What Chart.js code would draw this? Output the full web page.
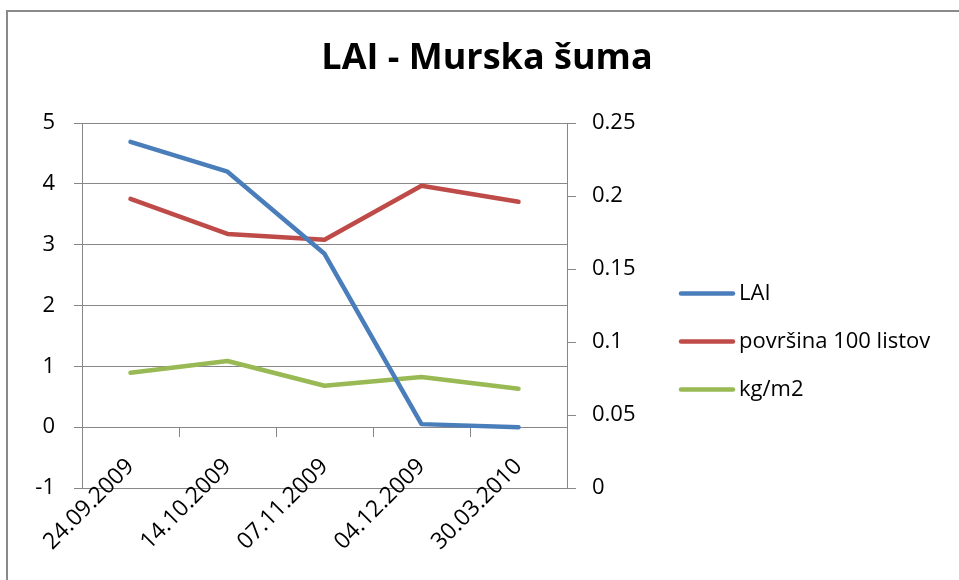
<!DOCTYPE html>
<html>
<head>
<meta charset="utf-8">
<script src="https://cdn.jsdelivr.net/npm/chart.js@4"></script>
<style>
  html, body { margin: 0; padding: 0; background: #fff; }
  #wrap { width: 959px; height: 580px; position: relative; }
</style>
</head>
<body>
<div id="wrap"><canvas id="laiChart" width="959" height="580"></canvas></div>
<script>
const dates = ['24.09.2009', '14.10.2009', '07.11.2009', '04.12.2009', '30.03.2010'];
const laiValues = [4.69, 4.20, 2.85, 0.05, 0.0];
const povrsinaValues = [0.198, 0.174, 0.170, 0.207, 0.196];
const kgValues = [0.079, 0.087, 0.070, 0.076, 0.068];
const leftTicks = ['-1', '0', '1', '2', '3', '4', '5'];
const rightTicks = ['0', '0.05', '0.1', '0.15', '0.2', '0.25'];
const chartTitle = 'LAI - Murska šuma';

const gridGray = '#878787';
const fontName = '"Open Sans", Lato, sans-serif';

// grey frame of the chart object (top and left edge only) + title
const framePlugin = {
  id: 'frame',
  beforeDraw(chart) {
    const ctx = chart.ctx;
    ctx.save();
    ctx.fillStyle = '#fff';
    ctx.fillRect(0, 0, chart.width, chart.height);
    ctx.strokeStyle = '#8a8a8a';
    ctx.lineWidth = 2;
    ctx.beginPath();
    ctx.moveTo(7, chart.height);
    ctx.lineTo(7, 11);
    ctx.lineTo(chart.width, 11);
    ctx.stroke();

    ctx.fillStyle = '#000';
    ctx.font = 'bold 36px ' + fontName;
    ctx.textAlign = 'center';
    ctx.textBaseline = 'alphabetic';
    ctx.fillText(chartTitle, 487, 69);
    ctx.restore();
  },
};

// legend drawn to the right of the plot, like excel does
const sideLegend = {
  id: 'sideLegend',
  afterDraw(chart) {
    const ctx = chart.ctx;
    const sets = chart.data.datasets;
    const midY = 341.5;
    const gap = 48;
    ctx.save();
    ctx.font = '22px ' + fontName;
    ctx.textBaseline = 'middle';
    ctx.fillStyle = '#000';
    sets.forEach((ds, i) => {
      const y = midY + (i - (sets.length - 1) / 2) * gap;
      ctx.strokeStyle = ds.borderColor;
      ctx.lineWidth = 4.5;
      ctx.lineCap = 'round';
      ctx.beginPath();
      ctx.moveTo(681, y);
      ctx.lineTo(733, y);
      ctx.stroke();
      ctx.fillText(ds.label, 739, y);
    });
    ctx.restore();
  },
};

const ctx = document.getElementById('laiChart').getContext('2d');
const laiChart = new Chart(ctx, {
  type: 'line',
  data: {
    labels: dates,
    datasets: [
      {
        label: 'LAI',
        data: laiValues,
        borderColor: '#4A7EBB',
        yAxisID: 'y',
      },
      {
        label: 'površina 100 listov',
        data: povrsinaValues,
        borderColor: '#BE4B48',
        yAxisID: 'y1',
      },
      {
        label: 'kg/m2',
        data: kgValues,
        borderColor: '#98B954',
        yAxisID: 'y1',
      },
    ],
  },
  options: {
    responsive: false,
    animation: false,
    events: [],
    layout: {
      padding: { top: 123, left: 0, right: 0, bottom: 92 },
    },
    elements: {
      line: {
        borderWidth: 4.5,
        tension: 0,
        borderCapStyle: 'round',
        borderJoinStyle: 'round',
      },
      point: { radius: 0 },
    },
    plugins: {
      legend: { display: false },
      tooltip: { enabled: false },
      title: { display: false },
    },
    scales: {
      x: {
        type: 'category',
        offset: true,
        position: { y: 0 },
        grid: {
          display: true,
          drawOnChartArea: false,
          drawTicks: true,
          tickLength: 9,
          color: gridGray,
          offset: true,
        },
        border: { display: true, color: gridGray, width: 1 },
        ticks: {
          autoSkip: false,
          minRotation: 45,
          maxRotation: 45,
          padding: 17,
          color: '#000',
          font: { family: fontName, size: 23 },
        },
        afterFit(scale) {
          scale.paddingLeft = 0;
          scale.paddingRight = 0;
        },
      },
      y: {
        position: 'left',
        min: -1,
        max: 5,
        ticks: {
          stepSize: 1,
          padding: 19,
          color: '#000',
          font: { family: fontName, size: 22 },
          callback: (v, i) => leftTicks[i],
        },
        grid: { color: gridGray, tickLength: 8, lineWidth: 1 },
        border: { color: gridGray, width: 1 },
        afterFit(scale) {
          scale.width = 82;
          scale.paddingTop = 0;
          scale.paddingBottom = 0;
        },
      },
      y1: {
        position: 'right',
        min: 0,
        max: 0.25,
        ticks: {
          stepSize: 0.05,
          padding: 16,
          color: '#000',
          font: { family: fontName, size: 22 },
          callback: (v, i) => rightTicks[i],
        },
        grid: { drawOnChartArea: false, color: gridGray, tickLength: 9 },
        border: { color: gridGray, width: 1 },
        afterFit(scale) {
          scale.width = 392;
          scale.paddingTop = 0;
          scale.paddingBottom = 0;
        },
      },
    },
  },
  plugins: [framePlugin, sideLegend],
});
</script>
</body>
</html>
